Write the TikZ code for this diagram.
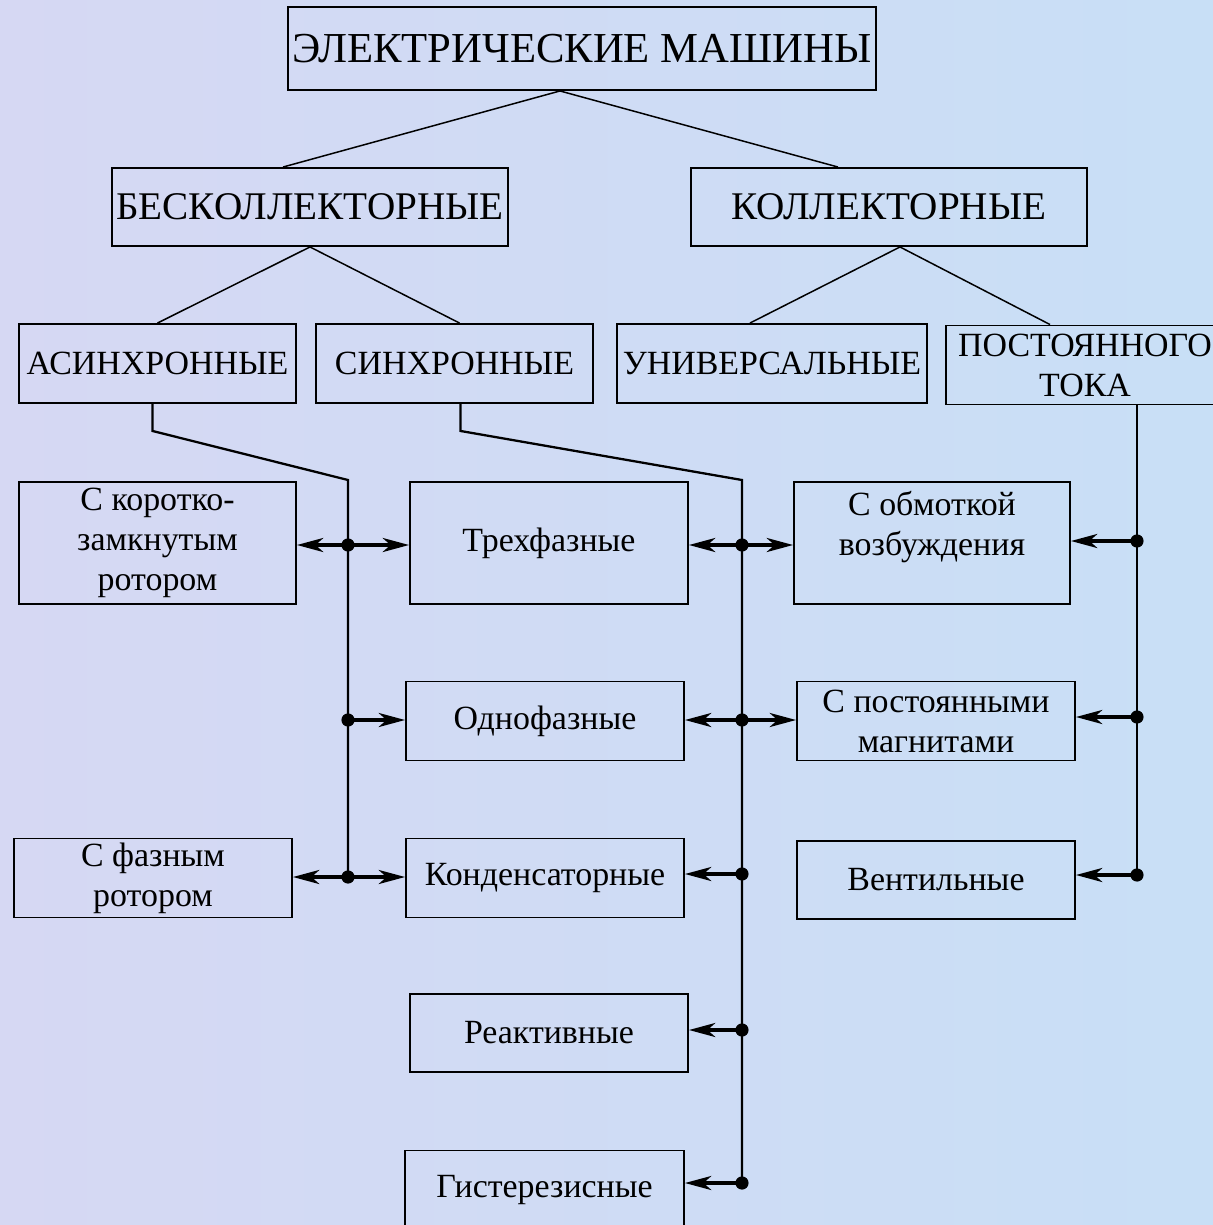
\documentclass[tikz,border=0pt]{standalone}
\usepackage{fontspec}
\setmainfont{Liberation Serif}
\usepackage{xcolor}
\usetikzlibrary{arrows.meta, calc, positioning}
\definecolor{bglav}{RGB}{214,216,243}
\definecolor{bgblue}{RGB}{200,223,246}

\begin{document}
\begin{tikzpicture}[x=0.02cm, y=-0.02cm,
    box/.style={draw, line width=1.1pt, align=center, inner sep=0pt,
        font=\fontsize{19.3}{22.7}\selectfont},
    bigbox/.style={box, font=\fontsize{22.3}{26}\selectfont},
    titlebox/.style={box, font=\fontsize{24.3}{28}\selectfont},
    tree/.style={line width=0.85pt},
    bus/.style={line width=1.3pt},
    arr/.style={line width=2pt, -{Stealth[length=15pt, width=8pt, inset=4.5pt]}},
    dot/.style={circle, fill, inner sep=0pt, minimum size=7.5pt}]
    % Background
    \useasboundingbox (0,0) rectangle (1213,1225);
    \clip (0,0) rectangle (1213,1225);
    \shade[left color=bglav, right color=bgblue] (0,0) rectangle (1213,1225);

    % Levels 1 and 2
    \node[titlebox, minimum width=11.76cm, minimum height=1.66cm] (machines) at (582,48.5) {ЭЛЕКТРИЧЕСКИЕ МАШИНЫ};
    \node[bigbox, minimum width=7.92cm, minimum height=1.56cm] (brushless) at (310,207) {БЕСКОЛЛЕКТОРНЫЕ};
    \node[bigbox, minimum width=7.92cm, minimum height=1.56cm] (commut) at (889,207) {КОЛЛЕКТОРНЫЕ};

    % Level 3
    \node[box, minimum width=5.54cm, minimum height=1.58cm] (async) at (157.5,363.5) {АСИНХРОННЫЕ};
    \node[box, minimum width=5.54cm, minimum height=1.58cm] (sync) at (454.5,363.5) {СИНХРОННЫЕ};
    \node[box, minimum width=6.2cm, minimum height=1.58cm] (univ) at (772,363.5) {УНИВЕРСАЛЬНЫЕ};
    \node[box, minimum width=5.56cm, minimum height=1.58cm] (dc) at (1085,365) {ПОСТОЯННОГО\\ТОКА};

    % Leaves
    \node[box, minimum width=5.54cm, minimum height=2.44cm] (squirrel) at (157.5,543) {С коротко-\\замкнутым\\ротором};
    \node[box, minimum width=5.56cm, minimum height=2.44cm] (threeph) at (549,543) {Трехфазные};
    \node[box, minimum width=5.52cm, minimum height=2.44cm] (field) at (932,543) {С обмоткой\\возбуждения\\\mbox{}};
    \node[box, minimum width=5.56cm, minimum height=1.58cm] (oneph) at (545,721) {Однофазные};
    \node[box, minimum width=5.56cm, minimum height=1.58cm] (pmag) at (936,721) {С постоянными\\магнитами};
    \node[box, minimum width=5.56cm, minimum height=1.58cm] (wound) at (153,878) {С фазным\\ротором};
    \node[box, minimum width=5.56cm, minimum height=1.58cm] (capac) at (545,878) {Конденсаторные};
    \node[box, minimum width=5.56cm, minimum height=1.56cm] (valve) at (936,880) {Вентильные};
    \node[box, minimum width=5.56cm, minimum height=1.56cm] (reluct) at (549,1033) {Реактивные};
    \node[box, minimum width=5.58cm, minimum height=1.58cm] (hyst) at (544.5,1190) {Гистерезисные};

    % Tree lines
    \coordinate (msplit) at ($(machines.south)+(-22,0)$);
    \draw[tree] (msplit) -- ($(brushless.north)+(-27,0)$);
    \draw[tree] (msplit) -- ($(commut.north)+(-51,0)$);
    \draw[tree] (brushless.south) -- (async.north);
    \draw[tree] (brushless.south) -- ($(sync.north)+(5,0)$);
    \coordinate (csplit) at ($(commut.south)+(11,0)$);
    \draw[tree] (csplit) -- ($(univ.north)+(-22,0)$);
    \draw[tree] (csplit) -- ($(dc.north)+(-35,0)$);

    % Junctions
    \coordinate (abend) at (348,480);
    \coordinate (a1) at (348,545);
    \coordinate (a2) at (348,720);
    \coordinate (a3) at (348,877);
    \coordinate (sbend) at (742,480);
    \coordinate (s1) at (742,545);
    \coordinate (s2) at (742,720);
    \coordinate (s3) at (742,874);
    \coordinate (s4) at (742,1030);
    \coordinate (s5) at (742,1183);
    \coordinate (d1) at (1137,541);
    \coordinate (d2) at (1137,717);
    \coordinate (d3) at (1137,875);

    % Buses
    \draw[bus] ($(async.south)+(-5,0)$) -- ++(0,27) -- (abend) -- (a3);
    \draw[bus] ($(sync.south)+(6,0)$) -- ++(0,27) -- (sbend) -- (s5);
    \draw[bus] (dc.south -| d1) -- (d3);

    % Arrows
    \draw[arr] (a1) -- (a1 -| squirrel.east);
    \draw[arr] (a1) -- (a1 -| threeph.west);
    \draw[arr] (a2) -- (a2 -| oneph.west);
    \draw[arr] (a3) -- (a3 -| wound.east);
    \draw[arr] (a3) -- (a3 -| capac.west);
    \draw[arr] (s1) -- (s1 -| threeph.east);
    \draw[arr] (s1) -- (s1 -| field.west);
    \draw[arr] (s2) -- (s2 -| oneph.east);
    \draw[arr] (s2) -- (s2 -| pmag.west);
    \draw[arr] (s3) -- (s3 -| capac.east);
    \draw[arr] (s4) -- (s4 -| reluct.east);
    \draw[arr] (s5) -- (s5 -| hyst.east);
    \draw[arr] (d1) -- (d1 -| field.east);
    \draw[arr] (d2) -- (d2 -| pmag.east);
    \draw[arr] (d3) -- (d3 -| valve.east);
    \foreach \j in {a1,a2,a3,s1,s2,s3,s4,s5,d1,d2,d3}
        \node[dot] (dot-\j) at (\j) {};
\end{tikzpicture}
\end{document}
